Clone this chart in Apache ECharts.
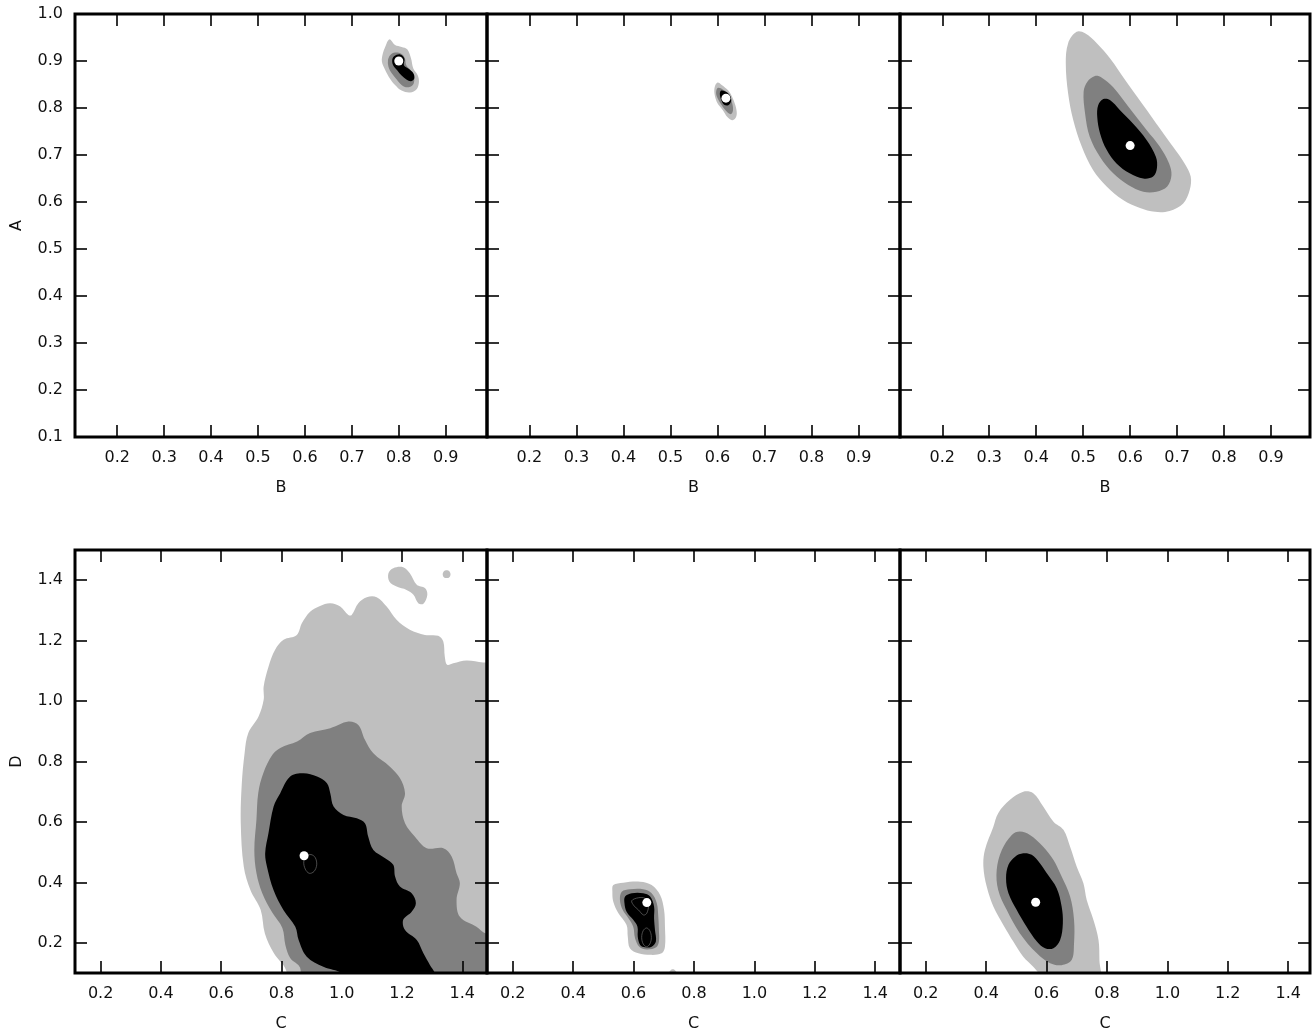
<!DOCTYPE html>
<html><head><meta charset="utf-8">
<script src="https://cdn.jsdelivr.net/npm/echarts@6/dist/echarts.min.js"></script>
<style>html,body{margin:0;padding:0;background:#fff;overflow:hidden}#c{width:1315px;height:1028px}</style>
</head><body><div id="c"></div>
<script>
// ---------- tick labels ----------
const xTicksB = [0.2,0.3,0.4,0.5,0.6,0.7,0.8,0.9];
const yTicksA = [0.1,0.2,0.3,0.4,0.5,0.6,0.7,0.8,0.9,1.0];
const xTicksC = [0.2,0.4,0.6,0.8,1.0,1.2,1.4];
const yTicksD = [0.2,0.4,0.6,0.8,1.0,1.2,1.4];

// ---------- best-fit points ----------
const best1 = [[0.80,0.900]];
const best2 = [[0.618,0.821]];
const best3 = [[0.600,0.720]];
const best4 = [[0.875,0.488]];
const best5 = [[0.644,0.333]];
const best6 = [[0.564,0.334]];

// ---------- panel 1 (B vs A) contours ----------
const p1Light = [[0.780,0.946],[0.792,0.934],[0.806,0.930],[0.818,0.925],[0.826,0.906],[0.831,0.884],[0.840,0.870],[0.843,0.856],[0.838,0.840],[0.824,0.833],[0.806,0.837],[0.792,0.849],[0.781,0.863],[0.771,0.881],[0.764,0.899],[0.766,0.916],[0.771,0.930]];
const p1Mid = [[0.792,0.918],[0.806,0.915],[0.813,0.906],[0.816,0.891],[0.828,0.877],[0.833,0.863],[0.830,0.849],[0.818,0.844],[0.806,0.849],[0.796,0.860],[0.785,0.874],[0.778,0.888],[0.777,0.902],[0.782,0.913]];
const p1Dark = [[0.790,0.910],[0.803,0.914],[0.812,0.905],[0.811,0.891],[0.820,0.884],[0.831,0.874],[0.833,0.863],[0.826,0.857],[0.817,0.860],[0.806,0.869],[0.797,0.880],[0.788,0.891],[0.786,0.902]];

// ---------- panel 2 (B vs A) contours ----------
const p2Light = [[0.600,0.854],[0.609,0.849],[0.623,0.837],[0.631,0.824],[0.638,0.806],[0.641,0.789],[0.638,0.778],[0.631,0.774],[0.621,0.781],[0.611,0.796],[0.600,0.810],[0.594,0.828],[0.594,0.844]];
const p2Mid = [[0.601,0.843],[0.614,0.838],[0.625,0.828],[0.631,0.811],[0.633,0.796],[0.629,0.787],[0.621,0.791],[0.610,0.804],[0.601,0.819],[0.597,0.832]];
const p2Dark = [[0.608,0.837],[0.619,0.834],[0.627,0.826],[0.629,0.815],[0.623,0.806],[0.614,0.807],[0.608,0.817],[0.605,0.830]];

// ---------- panel 3 (B vs A) contours ----------
const p3Light = [[0.486,0.962],[0.504,0.959],[0.529,0.938],[0.557,0.906],[0.592,0.856],[0.628,0.806],[0.663,0.757],[0.691,0.718],[0.716,0.682],[0.729,0.654],[0.727,0.626],[0.713,0.597],[0.684,0.581],[0.653,0.579],[0.621,0.587],[0.585,0.604],[0.550,0.633],[0.521,0.668],[0.497,0.718],[0.479,0.774],[0.468,0.831],[0.463,0.895],[0.468,0.938]];
const p3Mid = [[0.525,0.868],[0.539,0.865],[0.564,0.844],[0.596,0.803],[0.635,0.753],[0.663,0.718],[0.683,0.682],[0.688,0.657],[0.679,0.633],[0.656,0.622],[0.628,0.622],[0.596,0.636],[0.564,0.661],[0.536,0.696],[0.514,0.739],[0.504,0.789],[0.501,0.835],[0.509,0.856]];
const p3Dark = [[0.543,0.819],[0.557,0.817],[0.578,0.796],[0.606,0.767],[0.635,0.732],[0.655,0.696],[0.657,0.672],[0.649,0.654],[0.628,0.650],[0.599,0.661],[0.571,0.682],[0.550,0.711],[0.536,0.746],[0.530,0.781],[0.532,0.806]];

// ---------- panel 4 (C vs D) contours ----------
const p4Light = [[0.840,0.0],[0.815,0.110],[0.775,0.165],[0.745,0.231],[0.731,0.309],[0.697,0.375],[0.675,0.452],[0.665,0.596],[0.668,0.720],[0.678,0.830],[0.690,0.894],[0.724,0.949],[0.741,1.004],[0.741,1.048],[0.757,1.114],[0.779,1.170],[0.807,1.203],[0.851,1.219],[0.868,1.258],[0.895,1.296],[0.928,1.315],[0.962,1.324],[0.995,1.313],[1.022,1.285],[1.033,1.285],[1.055,1.324],[1.083,1.344],[1.116,1.344],[1.149,1.313],[1.182,1.269],[1.226,1.236],[1.276,1.219],[1.320,1.216],[1.337,1.197],[1.342,1.147],[1.350,1.120],[1.370,1.125],[1.414,1.134],[1.469,1.128],[1.560,1.128],[1.560,0.0]];
const p4Blob1 = [[1.171,1.440],[1.204,1.443],[1.226,1.423],[1.249,1.385],[1.276,1.374],[1.284,1.352],[1.271,1.322],[1.254,1.324],[1.238,1.352],[1.215,1.368],[1.182,1.379],[1.158,1.396],[1.155,1.423]];
const p4Blob2 = [[1.335,1.420],[1.339,1.430],[1.348,1.433],[1.357,1.430],[1.361,1.420],[1.357,1.410],[1.348,1.407],[1.339,1.410]];
const p4Mid = [[0.875,0.0],[0.862,0.117],[0.829,0.150],[0.813,0.193],[0.803,0.249],[0.770,0.299],[0.736,0.365],[0.717,0.431],[0.710,0.507],[0.717,0.607],[0.723,0.696],[0.740,0.762],[0.770,0.822],[0.796,0.845],[0.852,0.866],[0.895,0.894],[0.962,0.910],[1.022,0.932],[1.055,0.921],[1.077,0.872],[1.105,0.827],[1.160,0.783],[1.193,0.745],[1.210,0.695],[1.199,0.651],[1.210,0.596],[1.243,0.551],[1.282,0.513],[1.337,0.513],[1.365,0.485],[1.381,0.430],[1.392,0.397],[1.381,0.342],[1.392,0.286],[1.447,0.253],[1.478,0.231],[1.560,0.220],[1.560,0.0]];
const p4Dark = [[1.030,0.060],[1.000,0.100],[0.939,0.121],[0.884,0.154],[0.857,0.209],[0.846,0.253],[0.807,0.308],[0.774,0.374],[0.752,0.452],[0.746,0.496],[0.757,0.563],[0.774,0.651],[0.796,0.695],[0.829,0.750],[0.873,0.761],[0.918,0.750],[0.951,0.728],[0.962,0.695],[0.973,0.651],[1.006,0.623],[1.050,0.612],[1.077,0.596],[1.088,0.551],[1.105,0.507],[1.144,0.480],[1.171,0.458],[1.177,0.419],[1.193,0.386],[1.232,0.364],[1.246,0.331],[1.232,0.303],[1.204,0.276],[1.210,0.242],[1.249,0.209],[1.271,0.165],[1.293,0.126],[1.309,0.100],[1.320,0.060]];
const p4Inner = [[0.874,0.468],[0.879,0.444],[0.892,0.430],[0.908,0.436],[0.917,0.458],[0.912,0.482],[0.898,0.492],[0.882,0.486]];

// ---------- panel 5 (C vs D) contours ----------
const p5Light = [[0.533,0.391],[0.566,0.399],[0.622,0.402],[0.660,0.391],[0.688,0.358],[0.701,0.309],[0.704,0.253],[0.704,0.187],[0.693,0.165],[0.655,0.160],[0.616,0.165],[0.588,0.182],[0.581,0.220],[0.577,0.259],[0.550,0.298],[0.533,0.336],[0.530,0.369]];
const p5Mid = [[0.561,0.369],[0.588,0.377],[0.632,0.377],[0.660,0.364],[0.677,0.331],[0.682,0.286],[0.684,0.242],[0.684,0.204],[0.675,0.185],[0.644,0.178],[0.619,0.187],[0.605,0.215],[0.599,0.253],[0.583,0.281],[0.564,0.309],[0.555,0.342]];
const p5Dark = [[0.572,0.353],[0.594,0.364],[0.632,0.364],[0.655,0.353],[0.668,0.320],[0.668,0.281],[0.671,0.242],[0.674,0.204],[0.660,0.187],[0.638,0.185],[0.622,0.193],[0.614,0.220],[0.613,0.253],[0.599,0.276],[0.577,0.303],[0.570,0.331]];
const p5InnerUp = [[0.594,0.339],[0.616,0.349],[0.638,0.347],[0.649,0.325],[0.644,0.298],[0.633,0.292],[0.616,0.309],[0.602,0.322]];
const p5InnerLow = [[0.627,0.218],[0.632,0.196],[0.643,0.187],[0.654,0.196],[0.659,0.218],[0.654,0.240],[0.643,0.249],[0.632,0.240]];
const p5Speck = [[0.718,0.100],[0.722,0.108],[0.730,0.112],[0.738,0.108],[0.742,0.100],[0.730,0.094]];

// ---------- panel 6 (C vs D) contours ----------
const p6Light = [[0.523,0.700],[0.556,0.695],[0.589,0.651],[0.623,0.601],[0.656,0.574],[0.678,0.518],[0.700,0.452],[0.722,0.397],[0.733,0.342],[0.755,0.276],[0.772,0.209],[0.775,0.143],[0.775,0.050],[0.590,0.050],[0.578,0.093],[0.556,0.121],[0.523,0.154],[0.490,0.204],[0.457,0.259],[0.424,0.320],[0.402,0.386],[0.391,0.452],[0.396,0.507],[0.424,0.584],[0.440,0.629],[0.479,0.673]];
const p6Mid = [[0.512,0.568],[0.545,0.557],[0.589,0.518],[0.623,0.474],[0.650,0.419],[0.678,0.353],[0.691,0.276],[0.691,0.198],[0.683,0.143],[0.650,0.126],[0.612,0.132],[0.568,0.165],[0.512,0.231],[0.468,0.309],[0.440,0.375],[0.435,0.441],[0.452,0.507],[0.485,0.557]];
const p6Dark = [[0.523,0.496],[0.551,0.491],[0.578,0.463],[0.601,0.430],[0.634,0.380],[0.650,0.320],[0.654,0.265],[0.645,0.209],[0.623,0.182],[0.595,0.182],[0.568,0.204],[0.534,0.253],[0.501,0.309],[0.474,0.364],[0.466,0.414],[0.474,0.458],[0.496,0.485]];

// ---------- layout ----------
const GRIDS = [
  {left:75,  top:14,  width:412, height:423},
  {left:487, top:14,  width:413, height:423},
  {left:900, top:14,  width:410, height:423},
  {left:75,  top:550, width:412, height:423},
  {left:487, top:550, width:413, height:423},
  {left:900, top:550, width:410, height:423}
];
const XRANGE = [[0.11,0.988],[0.11,0.988],[0.11,0.983],[0.115,1.482],[0.115,1.482],[0.115,1.472]];
const YRANGE = [[0.1,1.0],[0.1,1.0],[0.1,1.0],[0.1,1.5],[0.1,1.5],[0.1,1.5]];
const XNAME = ['B','B','B','C','C','C'];
const YNAME = ['A','','','D','',''];

const LIGHT = '#bfbfbf', MID = '#808080', DARK = '#000000';
const FONT = 'DejaVu Sans';
const FS = 16;
const fmt = v => (Math.round(v*10)/10).toFixed(1);

const grid = [], xAxis = [], yAxis = [], series = [];
GRIDS.forEach((g, i) => {
  grid.push(Object.assign({show:true, borderColor:'#000', borderWidth:3, backgroundColor:'transparent', z:10,
    containLabel:false, outerBoundsMode:'none'}, g));
  const xt = i < 3 ? xTicksB : xTicksC;
  const yt = i < 3 ? yTicksA : yTicksD;
  const tick = {show:true, inside:true, length:12, lineStyle:{color:'#000', width:1.6}};
  xAxis.push({
    type:'value', gridIndex:i, position:'bottom', min:XRANGE[i][0], max:XRANGE[i][1], z:10,
    name:XNAME[i], nameLocation:'middle', nameGap:43,
    nameTextStyle:{fontFamily:FONT, fontSize:FS, color:'#111'},
    axisLine:{show:false}, splitLine:{show:false},
    axisTick:Object.assign({customValues:xt}, tick),
    axisLabel:{customValues:xt, formatter:fmt, margin:13, fontFamily:FONT, fontSize:FS, color:'#111', showMinLabel:true, showMaxLabel:true}
  });
  xAxis.push({
    type:'value', gridIndex:i, position:'top', min:XRANGE[i][0], max:XRANGE[i][1], z:10,
    axisLine:{show:false}, splitLine:{show:false},
    axisTick:Object.assign({customValues:xt}, tick),
    axisLabel:{show:false}
  });
  yAxis.push({
    type:'value', gridIndex:i, position:'left', min:YRANGE[i][0], max:YRANGE[i][1], z:10,
    name:YNAME[i], nameLocation:'middle', nameGap:50,
    nameTextStyle:{fontFamily:FONT, fontSize:FS, color:'#111'},
    axisLine:{show:false}, splitLine:{show:false},
    axisTick:Object.assign({customValues:yt}, tick),
    axisLabel:{show: i % 3 === 0, customValues:yt, formatter:fmt, margin:12, fontFamily:FONT, fontSize:FS, color:'#111', showMinLabel:true, showMaxLabel:true}
  });
  yAxis.push({
    type:'value', gridIndex:i, position:'right', min:YRANGE[i][0], max:YRANGE[i][1], z:10,
    axisLine:{show:false}, splitLine:{show:false},
    axisTick:Object.assign({customValues:yt}, tick),
    axisLabel:{show:false}
  });
});

function poly(gi, pts, fill, z, stroke, lw) {
  return {
    type:'custom', coordinateSystem:'cartesian2d', xAxisIndex:gi*2, yAxisIndex:gi*2,
    clip:true, silent:true, z:z, data:pts, encode:{x:0, y:1},
    renderItem:function(params, api){
      if (params.dataIndex !== 0) return null;
      const coords = pts.map(p => api.coord(p));
      return {
        type:'polygon',
        shape:{points:coords, smooth:0.35},
        style: fill ? {fill:fill, stroke:null} : {fill:null, stroke:stroke, lineWidth:lw}
      };
    }
  };
}
function dot(gi, pts) {
  return {type:'scatter', xAxisIndex:gi*2, yAxisIndex:gi*2, data:pts, symbol:'circle', symbolSize:9,
    itemStyle:{color:'#ffffff', borderWidth:0, opacity:1}, emphasis:{disabled:true}, z:6, silent:true};
}

const CONTOURS = [
  [p1Light, p1Mid, p1Dark],
  [p2Light, p2Mid, p2Dark],
  [p3Light, p3Mid, p3Dark],
  [p4Light, p4Mid, p4Dark],
  [p5Light, p5Mid, p5Dark],
  [p6Light, p6Mid, p6Dark]
];
const BEST = [best1, best2, best3, best4, best5, best6];
CONTOURS.forEach((c, i) => {
  series.push(poly(i, c[0], LIGHT, 1));
  series.push(poly(i, c[1], MID, 2));
  series.push(poly(i, c[2], DARK, 3));
});
series.push(poly(3, p4Blob1, LIGHT, 1));
series.push(poly(3, p4Blob2, LIGHT, 1));
series.push(poly(4, p5Speck, LIGHT, 1));
series.push(poly(3, p4Inner, null, 4, '#6a6a6a', 0.7));
series.push(poly(4, p5InnerUp, null, 4, '#6a6a6a', 0.7));
series.push(poly(4, p5InnerLow, null, 4, '#6a6a6a', 0.7));
BEST.forEach((b, i) => series.push(dot(i, b)));

const chart = echarts.init(document.getElementById('c'), null, {renderer:'canvas'});
chart.setOption({animation:false, backgroundColor:'#fff', grid, xAxis, yAxis, series});
</script></body></html>
